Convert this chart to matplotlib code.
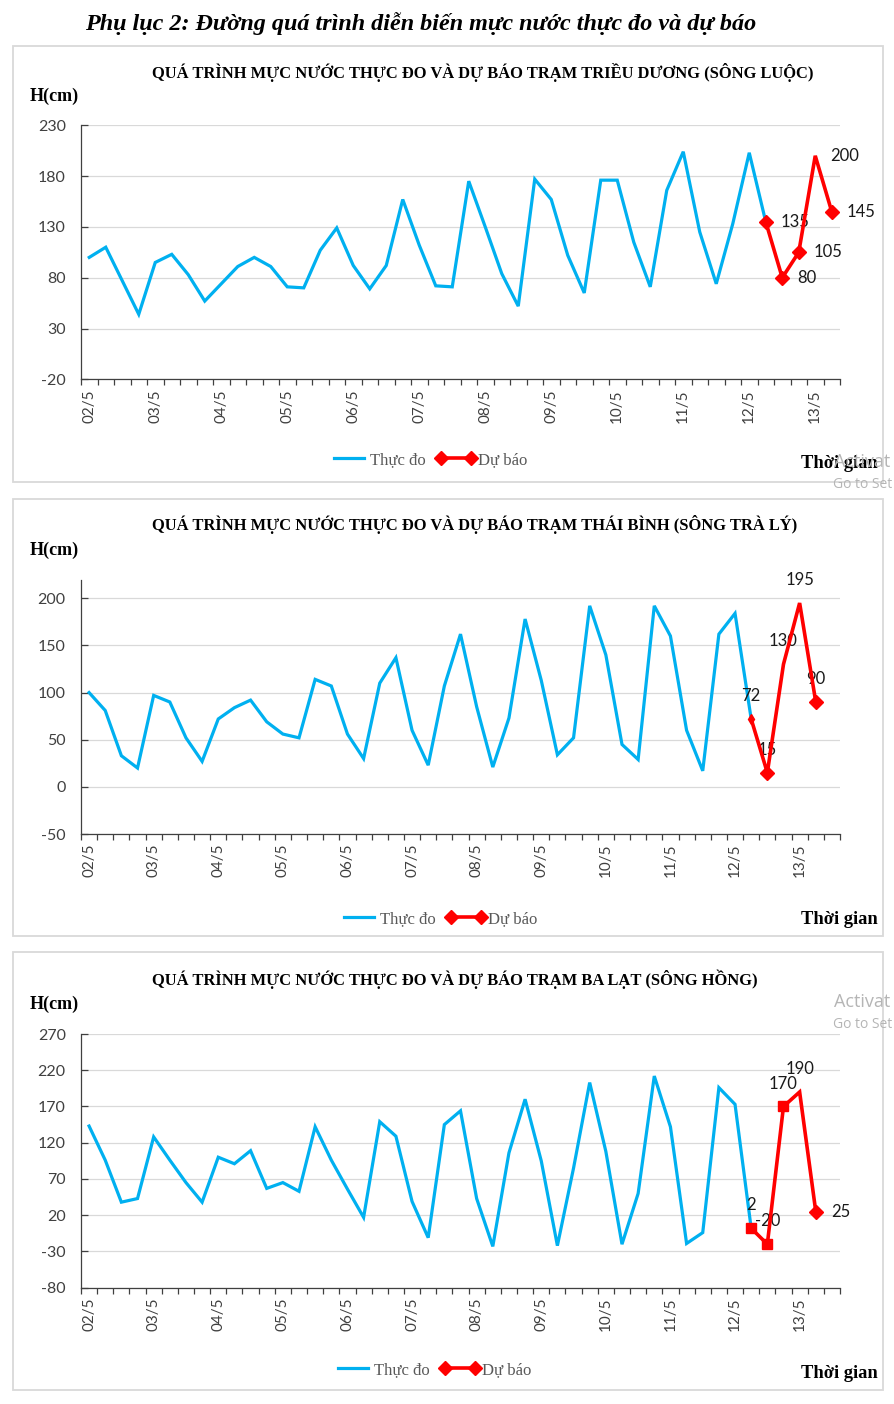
import matplotlib
matplotlib.use("Agg")
import matplotlib.pyplot as plt
from matplotlib.lines import Line2D
from matplotlib.patches import Rectangle

plt.rcParams['axes.unicode_minus'] = False

# ---- data ----
day_labels = ['02/5', '03/5', '04/5', '05/5', '06/5', '07/5', '08/5',
              '09/5', '10/5', '11/5', '12/5', '13/5']

trieu_duong_obs = [100, 110, 77, 44, 95, 103, 83, 57, 74, 91, 100, 91, 71, 70,
                   107, 129, 92, 69, 92, 157, 112, 72, 71, 175, 130, 84, 52,
                   177, 157, 102, 65, 176, 176, 115, 71, 166, 204, 125, 74,
                   133, 203]
trieu_duong_fc = [135, 80, 105, 200, 145]

thai_binh_obs = [100, 81, 33, 20, 97, 90, 52, 27, 72, 84, 92, 69, 56, 52, 114,
                 107, 56, 30, 110, 137, 60, 23, 107, 162, 85, 21, 73, 178, 113,
                 34, 52, 192, 140, 45, 29, 192, 160, 60, 17, 162, 184]
thai_binh_fc = [72, 15, 130, 195, 90]

ba_lat_obs = [143, 96, 38, 43, 128, 96, 65, 38, 100, 91, 109, 57, 65, 53, 142,
              96, 56, 17, 149, 129, 39, -11, 145, 164, 43, -23, 106, 180, 95,
              -22, 85, 203, 108, -20, 50, 212, 142, -19, -4, 196, 173]
ba_lat_fc = [2, -20, 170, 190, 25]

titles = ['QUÁ TRÌNH MỰC NƯỚC THỰC ĐO VÀ DỰ BÁO TRẠM TRIỀU DƯƠNG (SÔNG LUỘC)',
          'QUÁ TRÌNH MỰC NƯỚC THỰC ĐO VÀ DỰ BÁO TRẠM THÁI BÌNH (SÔNG TRÀ LÝ)',
          'QUÁ TRÌNH MỰC NƯỚC THỰC ĐO VÀ DỰ BÁO TRẠM BA LẠT (SÔNG HỒNG)']

# ---- styling ----
W, H = 894, 1404
BLUE = '#00B0F0'
RED = '#FF0000'
SERIF = 'Liberation Serif'
SANS = 'Lato'


def fx(x):
    return x / W


def fy(y):
    return 1 - y / H


def box(l, t, r, b):
    return [l / W, 1 - b / H, (r - l) / W, (b - t) / H]


fig = plt.figure(figsize=(W / 100, H / 100), dpi=100)

fig.text(fx(85), fy(24), 'Phụ lục 2: Đường quá trình diễn biến mực nước thực đo và dự báo',
         family=SERIF, weight='bold', style='italic', fontsize=17.4,
         ha='left', va='center')

charts = [
    dict(obs=trieu_duong_obs, fc=trieu_duong_fc, ncat=46,
         yticks=range(-20, 231, 50), ylim=(-20, 230),
         area=(81, 125.3, 840, 379.3), panel=(13, 46, 883, 482),
         title_y=72, h_y=96, leg=(428, 460), tg_y=463,
         lab_pos=['r', 'r', 'r', 'r', 'r'],
         marks=['D', 'D', 'D', None, 'D']),
    dict(obs=thai_binh_obs, fc=thai_binh_fc, ncat=47,
         yticks=range(-50, 201, 50), ylim=(-50, 219.4),
         area=(81, 580, 840, 834), panel=(13, 499, 883, 936),
         title_y=525, h_y=550, leg=(438, 919), tg_y=920,
         lab_pos=['u', 'u', 'u', 'u', 'u'],
         marks=['d', 'D', None, None, 'D']),
    dict(obs=ba_lat_obs, fc=ba_lat_fc, ncat=47,
         yticks=range(-80, 271, 50), ylim=(-80, 270),
         area=(81, 1034, 840, 1287.7), panel=(13, 952, 883, 1390),
         title_y=979, h_y=1004, leg=(432, 1370), tg_y=1374,
         lab_pos=['u', 'u', 'u', 'u', 'r'],
         marks=['s', 's', 's', None, 'D']),
]

for i, c in enumerate(charts):
    pl, pt, pr, pb = c['panel']
    fig.patches.append(Rectangle((fx(pl), fy(pb)), (pr - pl) / W, (pb - pt) / H,
                                 transform=fig.transFigure, fill=False,
                                 edgecolor='#d9d9d9', linewidth=1.3))

    ax = fig.add_axes(box(*c['area']))
    n_obs = len(c['obs'])
    x_obs = list(range(n_obs + 1))
    y_obs = list(c['obs']) + [c['fc'][0]]
    x_fc = list(range(n_obs, n_obs + len(c['fc'])))

    ax.plot(x_obs, y_obs, color=BLUE, linewidth=2.3, solid_joinstyle='miter', zorder=3)
    ax.plot(x_fc, c['fc'], color=RED, linewidth=2.6, solid_joinstyle='miter', zorder=4)
    for x, y, m in zip(x_fc, c['fc'], c['marks']):
        if m is None:
            continue
        size = {'D': 7, 's': 6.5, 'd': 5}[m]
        ax.plot([x], [y], marker=m, markersize=size, color=RED, linestyle='none', zorder=5)

    for x, y, p in zip(x_fc, c['fc'], c['lab_pos']):
        if p == 'r':
            ax.annotate(str(y), (x, y), xytext=(11, 0), textcoords='offset points',
                        ha='left', va='center', family=SANS, fontsize=12, color='#1a1a1a')
        else:
            ax.annotate(str(y), (x, y), xytext=(0, 16.5), textcoords='offset points',
                        ha='center', va='center', family=SANS, fontsize=12, color='#1a1a1a')

    ax.set_xlim(-0.5, c['ncat'] - 0.5)
    ax.set_ylim(*c['ylim'])
    ax.set_yticks(list(c['yticks']))
    ax.set_xticks(range(0, 4 * len(day_labels), 4))
    ax.set_xticklabels(day_labels, rotation=90, family=SANS, fontsize=11, color='#404040')
    ax.set_xticks([k - 0.5 for k in range(c['ncat'] + 1)], minor=True)
    ax.tick_params(axis='x', which='major', length=0, pad=7)
    ax.tick_params(axis='x', which='minor', direction='out', length=4, color='#404040', width=0.9)
    ax.tick_params(axis='y', direction='in', length=5, color='#404040', width=0.9,
                   pad=11, labelsize=11.5, labelcolor='#404040')
    for lbl in ax.get_yticklabels():
        lbl.set_family(SANS)
    ax.grid(axis='y', color='#d9d9d9', linewidth=0.9)
    ax.set_axisbelow(True)
    for s in ['top', 'right']:
        ax.spines[s].set_visible(False)
    for s in ['left', 'bottom']:
        ax.spines[s].set_color('#404040')
        ax.spines[s].set_linewidth(0.9)

    fig.text(fx(152), fy(c['title_y']), titles[i], family=SERIF, weight='bold',
             fontsize=11.9, ha='left', va='center')
    fig.text(fx(30), fy(c['h_y']), 'H(cm)', family=SERIF, weight='bold',
             fontsize=13, ha='left', va='center')
    fig.text(fx(878), fy(c['tg_y']), 'Thời gian', family=SERIF, weight='bold',
             fontsize=13.3, ha='right', va='center')

    handles = [Line2D([], [], color=BLUE, linewidth=2.3),
               Line2D([], [], color=RED, linewidth=2.6, marker='D', markersize=7)]
    fig.legend(handles, ['Thực đo', 'Dự báo'], loc='center',
               bbox_to_anchor=(fx(c['leg'][0]), fy(c['leg'][1])), ncol=2,
               frameon=False, numpoints=2, handlelength=2.4, handletextpad=0.1,
               columnspacing=0.6, prop={'family': SERIF, 'size': 12},
               labelcolor='#595959')

# faint screen watermark visible at the right edge
for y1, y2 in [(462, 484), (1002, 1025)]:
    fig.text(fx(834), fy(y1), 'Activat', family='Open Sans', fontsize=13,
             color='#b5b5b5', ha='left', va='center')
    fig.text(fx(833), fy(y2), 'Go to Set', family='Open Sans', fontsize=10,
             color='#b5b5b5', ha='left', va='center')

fig.savefig('out.png', dpi=100)
